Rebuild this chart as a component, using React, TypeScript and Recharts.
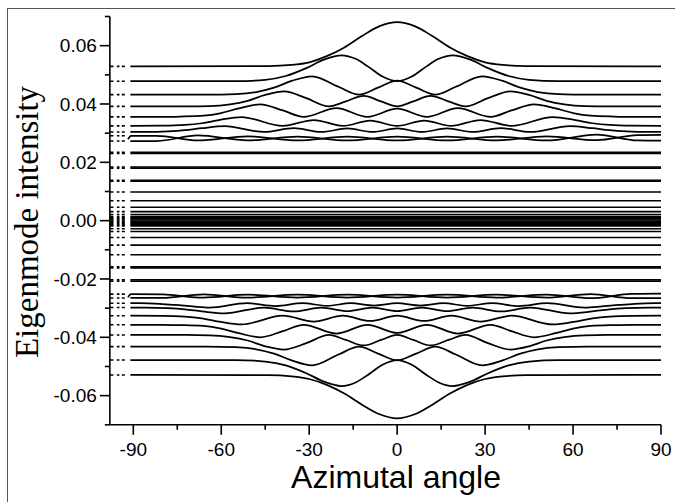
import React from 'react';
import { LineChart, Line, XAxis, YAxis, Label } from 'recharts';

type Pt = [number, number];

// ---------- axes ----------
const xTicks = [-90, -75, -60, -45, -30, -15, 0, 15, 30, 45, 60, 75, 90];
const xMajorTicks = [-90, -60, -30, 0, 30, 60, 90];
const xTickLabels = ['-90', '-60', '-30', '0', '30', '60', '90'];
const yTicks = [-0.07, -0.06, -0.05, -0.04, -0.03, -0.02, -0.01, 0, 0.01, 0.02, 0.03, 0.04, 0.05, 0.06, 0.07];
const yMajorTicks = [-0.06, -0.04, -0.02, 0, 0.02, 0.04, 0.06];
const yTickLabels = ['-0.06', '-0.04', '-0.02', '0.00', '0.02', '0.04', '0.06'];

// ---------- upper branch ----------
const upMode0: Pt[] = [[-91, 0.0529], [-44, 0.053], [-36, 0.0534], [-30, 0.0543], [-24, 0.0564], [-18, 0.0594], [-12, 0.0633], [-6, 0.0667], [0, 0.0681], [6, 0.0667], [12, 0.0633], [18, 0.0594], [24, 0.0564], [30, 0.0543], [36, 0.0534], [44, 0.053], [90, 0.0529]];
const upMode1: Pt[] = [[-91, 0.0478], [-55, 0.0478], [-45, 0.0483], [-38, 0.0496], [-31, 0.0523], [-25, 0.0552], [-19, 0.0567], [-14, 0.0554], [-10, 0.0529], [-5, 0.0494], [0, 0.0478], [5, 0.0494], [10, 0.0529], [14, 0.0554], [19, 0.0567], [25, 0.0552], [31, 0.0523], [38, 0.0496], [45, 0.0483], [55, 0.0478], [90, 0.0478]];
const upMode2: Pt[] = [[-91, 0.0432], [-65, 0.0432], [-55, 0.0434], [-48, 0.0441], [-42, 0.0456], [-36, 0.0479], [-29, 0.0495], [-20, 0.0459], [-13, 0.0432], [-6.5, 0.0456], [0, 0.048], [6.5, 0.0456], [13, 0.0432], [20, 0.0459], [29, 0.0495], [36, 0.0479], [42, 0.0456], [48, 0.0441], [55, 0.0434], [65, 0.0432], [90, 0.0432]];
const upMode3: Pt[] = [[-91, 0.0392], [-72, 0.0392], [-64, 0.0393], [-57, 0.0399], [-51, 0.0411], [-45, 0.0431], [-38.6, 0.0443], [-31, 0.042], [-23.3, 0.0392], [-17.5, 0.0409], [-11.4, 0.0428], [-5.5, 0.0409], [0, 0.0392], [5.5, 0.0409], [11.4, 0.0428], [17.5, 0.0409], [23.3, 0.0392], [31, 0.042], [38.6, 0.0443], [45, 0.0431], [51, 0.0411], [57, 0.0399], [64, 0.0393], [72, 0.0392], [90, 0.0392]];
const upMode4: Pt[] = [[-91, 0.0356], [-80, 0.0356], [-74, 0.0357], [-66, 0.036], [-60, 0.0369], [-54, 0.0385], [-46.7, 0.0399], [-39, 0.0378], [-31.9, 0.0356], [-20.7, 0.0386], [-10.1, 0.0356], [0, 0.0384], [10.1, 0.0356], [20.7, 0.0386], [31.9, 0.0356], [39, 0.0378], [46.7, 0.0399], [54, 0.0385], [60, 0.0369], [66, 0.036], [74, 0.0357], [80, 0.0356], [90, 0.0356]];
const upMode5: Pt[] = [[-91, 0.0325], [-80, 0.03255], [-72.4, 0.0328], [-66.6, 0.0334], [-60.8, 0.0345], [-53.1, 0.0355], [-39, 0.0325], [-28.4, 0.0345], [-18.5, 0.0325], [-9.2, 0.0343], [0, 0.0325], [9.2, 0.0343], [18.5, 0.0325], [28.4, 0.0345], [39, 0.0325], [53.1, 0.0355], [60.8, 0.0345], [66.6, 0.0334], [72.4, 0.0328], [80, 0.03255], [90, 0.0325]];
const upMode6: Pt[] = [[-91, 0.0304], [-86, 0.0304], [-78.2, 0.0306], [-72.4, 0.031], [-66.6, 0.0317], [-58.9, 0.0324], [-45.4, 0.0304], [-35.3, 0.03175], [-25.8, 0.0304], [-17, 0.0316], [-8.4, 0.0304], [0, 0.0316], [8.4, 0.0304], [17, 0.0316], [25.8, 0.0304], [35.3, 0.03175], [45.4, 0.0304], [58.9, 0.0324], [66.6, 0.0317], [72.4, 0.031], [78.2, 0.0306], [86, 0.0304], [90, 0.0304]];
const upPairA: Pt[] = [[-91.8, 0.0279], [-90.8, 0.0291], [-82, 0.0291], [-68, 0.0275], [-51, 0.0289], [-34, 0.0275], [-17, 0.0288], [0, 0.0275], [17, 0.0288], [34, 0.0275], [51, 0.0289], [68, 0.0276], [82, 0.0293], [90, 0.0294]];
const upPairB: Pt[] = [[-91, 0.0273], [-82, 0.0273], [-68, 0.0292], [-51, 0.0275], [-34, 0.0288], [-17, 0.0275], [0, 0.0288], [17, 0.0275], [34, 0.0288], [51, 0.0275], [68, 0.0295], [82, 0.0275], [90, 0.0274]];

// ---------- lower branch ----------
const loMode0: Pt[] = [[-91, -0.0529], [-44, -0.053], [-36, -0.0534], [-30, -0.0543], [-24, -0.0563], [-18, -0.0593], [-12, -0.0631], [-6, -0.0664], [0, -0.0678], [6, -0.0664], [12, -0.0631], [18, -0.0593], [24, -0.0563], [30, -0.0543], [36, -0.0534], [44, -0.053], [90, -0.0529]];
const loMode1: Pt[] = [[-91, -0.0478], [-55, -0.0478], [-45, -0.0483], [-38, -0.0496], [-31, -0.0523], [-25, -0.0552], [-19, -0.0567], [-14, -0.0554], [-10, -0.0529], [-5, -0.0494], [0, -0.0478], [5, -0.0494], [10, -0.0529], [14, -0.0554], [19, -0.0567], [25, -0.0552], [31, -0.0523], [38, -0.0496], [45, -0.0483], [55, -0.0478], [90, -0.0478]];
const loMode2: Pt[] = [[-91, -0.0432], [-65, -0.0432], [-55, -0.0434], [-48, -0.0441], [-42, -0.0456], [-36, -0.0479], [-29, -0.0496], [-20, -0.0459], [-13, -0.0432], [-6.5, -0.0456], [0, -0.0479], [6.5, -0.0456], [13, -0.0432], [20, -0.0459], [29, -0.0496], [36, -0.0479], [42, -0.0456], [48, -0.0441], [55, -0.0434], [65, -0.0432], [90, -0.0432]];
const loMode3: Pt[] = [[-91, -0.0392], [-72, -0.0392], [-64, -0.0393], [-57, -0.0399], [-51, -0.0411], [-45, -0.0431], [-38.6, -0.0442], [-31, -0.042], [-23.3, -0.0392], [-17.5, -0.0409], [-11.4, -0.0428], [-5.5, -0.0409], [0, -0.0392], [5.5, -0.0409], [11.4, -0.0428], [17.5, -0.0409], [23.3, -0.0392], [31, -0.042], [38.6, -0.0442], [45, -0.0431], [51, -0.0411], [57, -0.0399], [64, -0.0393], [72, -0.0392], [90, -0.0392]];
const loMode4: Pt[] = [[-91, -0.0357], [-80, -0.0357], [-74, -0.0358], [-66, -0.0361], [-60, -0.037], [-54, -0.0386], [-46.7, -0.04], [-39, -0.0379], [-31.9, -0.0357], [-20.7, -0.0387], [-10.1, -0.0357], [0, -0.0385], [10.1, -0.0357], [20.7, -0.0387], [31.9, -0.0357], [39, -0.0379], [46.7, -0.04], [54, -0.0386], [60, -0.037], [66, -0.0361], [74, -0.0358], [80, -0.0357], [90, -0.0357]];
const loMode5: Pt[] = [[-91, -0.0326], [-80, -0.03265], [-72.4, -0.0329], [-66.6, -0.0335], [-60.8, -0.0346], [-53.1, -0.0356], [-39, -0.0326], [-28.4, -0.0346], [-18.5, -0.0326], [-9.2, -0.0344], [0, -0.0326], [9.2, -0.0344], [18.5, -0.0326], [28.4, -0.0346], [39, -0.0326], [53.1, -0.0356], [60.8, -0.0346], [66.6, -0.0335], [72.4, -0.0329], [80, -0.03265], [90, -0.0326]];
const loMode6: Pt[] = [[-91, -0.0298], [-86, -0.0298], [-78.2, -0.03], [-72.4, -0.0304], [-66.6, -0.0311], [-58.9, -0.0318], [-45.4, -0.0298], [-35.3, -0.03115], [-25.8, -0.0298], [-17, -0.031], [-8.4, -0.0298], [0, -0.031], [8.4, -0.0298], [17, -0.031], [25.8, -0.0298], [35.3, -0.03115], [45.4, -0.0298], [58.9, -0.0318], [66.6, -0.0311], [72.4, -0.0304], [78.2, -0.03], [86, -0.0298], [90, -0.0298]];
const loMode7: Pt[] = [[-91, -0.0283], [-88, -0.0283], [-81, -0.0285], [-75.5, -0.0289], [-69.8, -0.0294], [-64, -0.0298], [-51.2, -0.0283], [-41.5, -0.0293], [-32.3, -0.0283], [-23.9, -0.0292], [-15.8, -0.0283], [-7.9, -0.0291], [0, -0.0283], [7.9, -0.0291], [15.8, -0.0283], [23.9, -0.0292], [32.3, -0.0283], [41.5, -0.0293], [51.2, -0.0283], [64, -0.0298], [69.8, -0.0294], [75.5, -0.0289], [81, -0.0285], [88, -0.0283], [90, -0.0283]];
const loPairA: Pt[] = [[-91.8, -0.0263], [-90.8, -0.0252], [-80, -0.0253], [-66, -0.0264], [-51, -0.0254], [-34, -0.0264], [-17, -0.0254], [0, -0.0264], [17, -0.0254], [34, -0.0264], [51, -0.0254], [66, -0.0266], [80, -0.0251], [90, -0.025]];
const loPairB: Pt[] = [[-91, -0.0265], [-80, -0.0265], [-66, -0.0253], [-51, -0.0264], [-34, -0.0254], [-17, -0.0264], [0, -0.0254], [17, -0.0264], [34, -0.0254], [51, -0.0264], [66, -0.0252], [80, -0.0266], [90, -0.0266]];

// nearly flat levels (braids, dense band near zero)
const flatLevels = [0.0234, 0.023, 0.0184, 0.018, 0.0138, 0.0135, 0.0098, 0.0068, 0.0046, 0.0031, 0.0021, 0.0014, 0.001, 0.0006, 0.0002, -0.0002, -0.0006, -0.001, -0.0014, -0.0018, -0.0028, -0.0037, -0.0058, -0.0084, -0.0117, -0.0158, -0.0162, -0.0203, -0.0208];
const flatRange = [-91, 90];

// dashed stubs left of the curves
const dashLevels = [0.0529, 0.0478, 0.0432, 0.0392, 0.0356, 0.0325, 0.0304, 0.0291, 0.0273, ...flatLevels, -0.0252, -0.0265, -0.0283, -0.0298, -0.0326, -0.0357, -0.0392, -0.0432, -0.0478, -0.0529];
const dashRange = [-97.9, -92.9];

const curves: Pt[][] = [upMode0, upMode1, upMode2, upMode3, upMode4, upMode5, upMode6, upPairA, upPairB, loMode0, loMode1, loMode2, loMode3, loMode4, loMode5, loMode6, loMode7, loPairA, loPairB];

const toData = (pts: Pt[]) => pts.map(([x, y]) => ({ x, y }));

const SANS = '"Liberation Sans", Arial, Helvetica, sans-serif';
const SERIF = '"Liberation Serif", "Times New Roman", Times, serif';

const XTick = (props: any) => {
  const { x, y, payload } = props;
  const i = xMajorTicks.indexOf(payload.value);
  const major = i >= 0;
  return (
    <g>
      <line x1={x} y1={y} x2={x} y2={y + (major ? 10 : 5)} stroke="#000" strokeWidth={1.6} />
      {major && (
        <text x={x} y={y + 31} textAnchor="middle" fontSize={19} fontFamily={SANS} fill="#000">
          {xTickLabels[i]}
        </text>
      )}
    </g>
  );
};

const YTick = (props: any) => {
  const { x, y, payload } = props;
  const i = yMajorTicks.findIndex((t) => Math.abs(t - payload.value) < 1e-9);
  const major = i >= 0;
  return (
    <g>
      <line x1={x - (major ? 10 : 5)} y1={y} x2={x} y2={y} stroke="#000" strokeWidth={1.6} />
      {major && (
        <text x={x - 13} y={y + 6.8} textAnchor="end" fontSize={19} fontFamily={SANS} fill="#000">
          {yTickLabels[i]}
        </text>
      )}
    </g>
  );
};

export default function App() {
  return (
    <div style={{ position: 'fixed', left: 0, top: 0, width: 675, height: 502, overflow: 'hidden', background: '#fff' }}>
      <div
        style={{
          position: 'absolute',
          left: 7,
          top: 8,
          width: 668,
          height: 494,
          borderTop: '1.5px solid #555',
          borderLeft: '1.5px solid #555',
          boxSizing: 'border-box',
        }}
      />
      <div style={{ position: 'absolute', left: 0, top: 0 }}>
        <LineChart width={675} height={502} margin={{ top: 16.5, right: 14, bottom: 27.2, left: 49.85 }}>
          <XAxis
            type="number"
            dataKey="x"
            domain={[-98, 90]}
            allowDataOverflow
            ticks={xTicks}
            interval={0}
            tickSize={0}
            tickMargin={0}
            tick={XTick}
            height={50}
            axisLine={{ stroke: '#000', strokeWidth: 1.6 }}
          >
            <Label
              content={() => (
                <text x={396} y={488} textAnchor="middle" fontSize={32} fontFamily={SANS} fill="#000">
                  Azimutal angle
                </text>
              )}
            />
          </XAxis>
          <YAxis
            type="number"
            dataKey="y"
            domain={[-0.07, 0.07]}
            allowDataOverflow
            ticks={yTicks}
            interval={0}
            tickSize={0}
            tickMargin={0}
            tick={YTick}
            width={60}
            axisLine={{ stroke: '#000', strokeWidth: 1.6 }}
          >
            <Label
              content={() => (
                <text
                  x={38}
                  y={222}
                  transform="rotate(-90, 38, 222)"
                  textAnchor="middle"
                  fontSize={33}
                  fontFamily={SERIF}
                  fill="#000"
                >
                  Eigenmode intensity
                </text>
              )}
            />
          </YAxis>
          {dashLevels.map((v, i) => (
            <Line
              key={'d' + i}
              data={[{ x: dashRange[0], y: v }, { x: dashRange[1], y: v }]}
              dataKey="y"
              type="linear"
              stroke="#000"
              strokeWidth={1.6}
              strokeDasharray="3.3 3.4 2.6 2.4 3.3 10"
              dot={false}
              activeDot={false}
              isAnimationActive={false}
            />
          ))}
          {flatLevels.map((v, i) => (
            <Line
              key={'f' + i}
              data={[{ x: flatRange[0], y: v }, { x: flatRange[1], y: v }]}
              dataKey="y"
              type="linear"
              stroke="#000"
              strokeWidth={1.6}
              dot={false}
              activeDot={false}
              isAnimationActive={false}
            />
          ))}
          {curves.map((c, i) => (
            <Line
              key={'c' + i}
              data={toData(c)}
              dataKey="y"
              type="monotone"
              stroke="#000"
              strokeWidth={1.75}
              dot={false}
              activeDot={false}
              isAnimationActive={false}
            />
          ))}
        </LineChart>
      </div>
    </div>
  );
}
